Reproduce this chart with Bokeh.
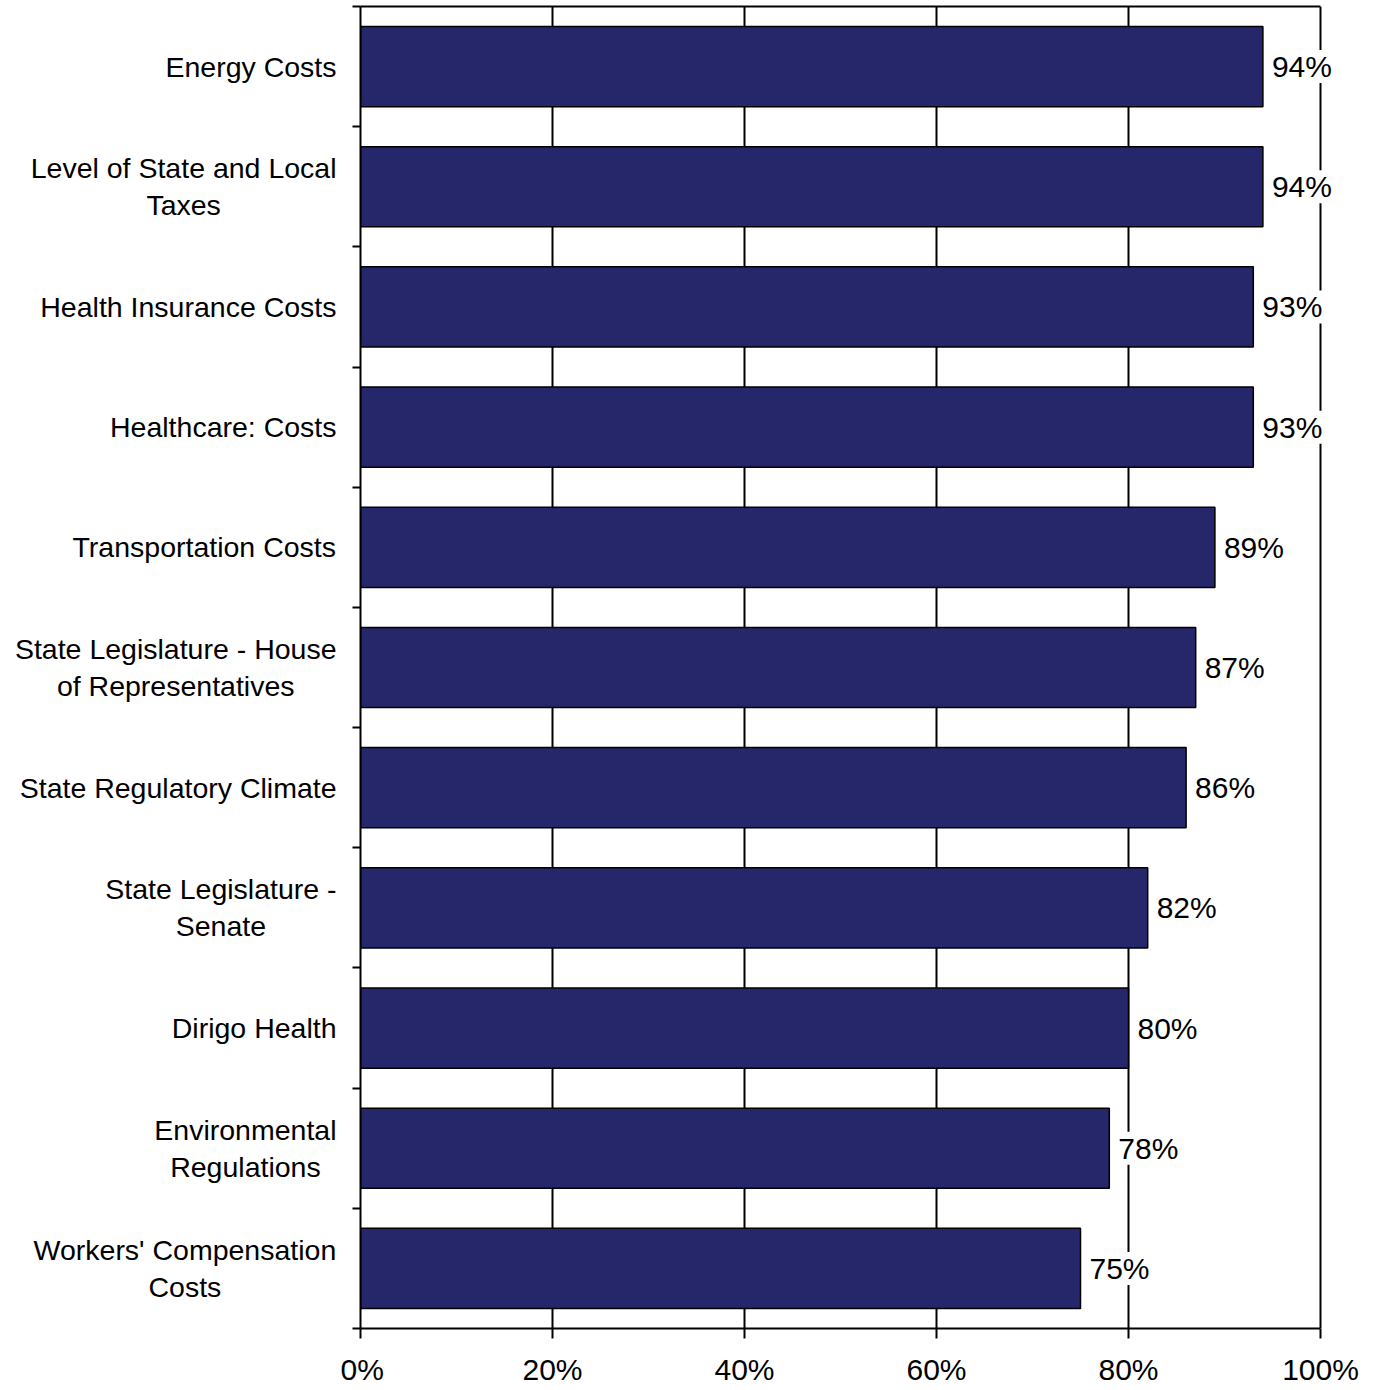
from bokeh.plotting import figure
from bokeh.layouts import row
from bokeh.models import Range1d, FixedTicker, ColumnDataSource, LabelSet, LinearAxis
from bokeh.core.properties import value
from bokeh.embed import file_html
from bokeh.resources import INLINE

categories = ["Energy Costs", "Level of State and Local\nTaxes", "Health Insurance Costs",
              "Healthcare: Costs", "Transportation Costs",
              "State Legislature - House\nof Representatives", "State Regulatory Climate",
              "State Legislature -\nSenate", "Dirigo Health", "Environmental\nRegulations",
              "Workers' Compensation\nCosts"]
values = [94, 94, 93, 93, 89, 87, 86, 82, 80, 78, 75]
x_ticks = [0, 20, 40, 60, 80, 100]
x_tick_labels = ["0%", "20%", "40%", "60%", "80%", "100%"]

FONT = "Liberation Sans"
BAR = "#26266A"
CAT_SIZE = 28.5
H = 1388
TOP, BOTTOM = 6, 60
LEFT_W = 340          # width of the label panel
LABEL_RIGHT = 336     # right edge of category labels
AXIS_GAP = 20         # from label panel to the value axis
PX_PER_100 = 960      # pixels for 0..100 %
FRAME_W = 1000

# Arial / Liberation Sans advance widths (per 1000 em), used to centre wrapped lines
_W = {" ": 278, "'": 191, "-": 333, ":": 278,
      "A": 667, "B": 667, "C": 722, "D": 722, "E": 667, "F": 611, "G": 778, "H": 722,
      "I": 278, "J": 500, "K": 667, "L": 556, "M": 833, "N": 722, "O": 778, "P": 667,
      "Q": 778, "R": 722, "S": 667, "T": 611, "U": 722, "V": 667, "W": 944, "X": 667,
      "Y": 667, "Z": 611,
      "a": 556, "b": 556, "c": 500, "d": 556, "e": 556, "f": 278, "g": 556, "h": 556,
      "i": 222, "j": 222, "k": 500, "l": 222, "m": 833, "n": 556, "o": 556, "p": 556,
      "q": 556, "r": 333, "s": 500, "t": 278, "u": 556, "v": 500, "w": 722, "x": 500,
      "y": 500, "z": 500}


def text_width(s, size):
    return sum(_W.get(c, 556) for c in s) * size / 1000.0


n = len(categories)
ys = [n - i - 0.5 for i in range(n)]
y_range = Range1d(0, n)

# ---------- label panel ----------
lp = figure(width=LEFT_W, height=H, output_backend="svg", toolbar_location=None,
            x_range=Range1d(0, LEFT_W), y_range=y_range,
            x_axis_location=None, y_axis_location=None,
            min_border_left=0, min_border_right=0, min_border_top=TOP, min_border_bottom=BOTTOM)
lp.outline_line_color = None
lp.grid.grid_line_color = None
lp.background_fill_color = "white"
lp.border_fill_color = "white"
lsrc = ColumnDataSource(dict(
    x=[LABEL_RIGHT - max(text_width(l, CAT_SIZE) for l in c.split("\n")) / 2 for c in categories],
    y=ys, t=categories))
lp.text(x="x", y="y", text="t", source=lsrc, text_align="center", text_baseline="middle",
        text_font=value(FONT), text_font_size=value(f"{CAT_SIZE}px"), text_color="black",
        text_line_height=1.15)

# ---------- bar panel ----------
x_end = 100.0 * FRAME_W / PX_PER_100
p = figure(width=AXIS_GAP + FRAME_W + 10, height=H, output_backend="svg", toolbar_location=None,
           x_range=Range1d(0, x_end), y_range=y_range,
           min_border_left=AXIS_GAP, min_border_right=10, min_border_top=TOP,
           min_border_bottom=BOTTOM)
p.background_fill_color = "white"
p.border_fill_color = "white"
p.outline_line_color = None

src = ColumnDataSource(dict(y=ys, v=values, lab=[f"{v}%" for v in values]))
p.hbar(y="y", right="v", left=0, height=0.667, source=src,
       fill_color=BAR, line_color="black", line_width=1.5)

p.ygrid.grid_line_color = None
p.xgrid.ticker = FixedTicker(ticks=x_ticks)
p.xgrid.grid_line_color = "black"
p.xgrid.grid_line_width = 2

xa = p.xaxis[0]
xa.ticker = FixedTicker(ticks=x_ticks)
xa.bounds = (x_ticks[0], x_ticks[-1])
xa.major_label_overrides = {t: l for t, l in zip(x_ticks, x_tick_labels)}
xa.major_label_text_font = FONT
xa.major_label_text_font_size = "30px"
xa.major_label_text_color = "black"
xa.major_tick_in = 0
xa.major_tick_out = 10
xa.minor_tick_out = 0
xa.minor_tick_in = 0
xa.axis_line_width = 2
xa.major_tick_line_width = 2
xa.axis_line_color = "black"
xa.major_label_standoff = 14

top = LinearAxis(bounds=(x_ticks[0], x_ticks[-1]), ticker=FixedTicker(ticks=[]),
                 major_tick_in=0, major_tick_out=0, minor_tick_in=0, minor_tick_out=0,
                 major_label_standoff=0, major_label_text_font_size="0px",
                 axis_line_width=2, axis_line_color="black")
p.add_layout(top, "above")

ya = p.yaxis[0]
ya.ticker = FixedTicker(ticks=list(range(n + 1)))
ya.major_label_overrides = {i: "" for i in range(n + 1)}
ya.major_label_text_font_size = "1px"
ya.major_label_standoff = 0
ya.major_tick_in = 0
ya.major_tick_out = 8
ya.minor_tick_out = 0
ya.minor_tick_in = 0
ya.axis_line_width = 2
ya.major_tick_line_width = 2
ya.axis_line_color = "black"

vals = LabelSet(x="v", y="y", text="lab", x_offset=9, source=src,
                text_align="left", text_baseline="middle",
                text_font=value(FONT), text_font_size=value("30px"), text_color="black",
                background_fill_color="white")
p.add_layout(vals)

layout = row(lp, p, spacing=0)
open("out.html", "w").write(file_html(layout, INLINE))
